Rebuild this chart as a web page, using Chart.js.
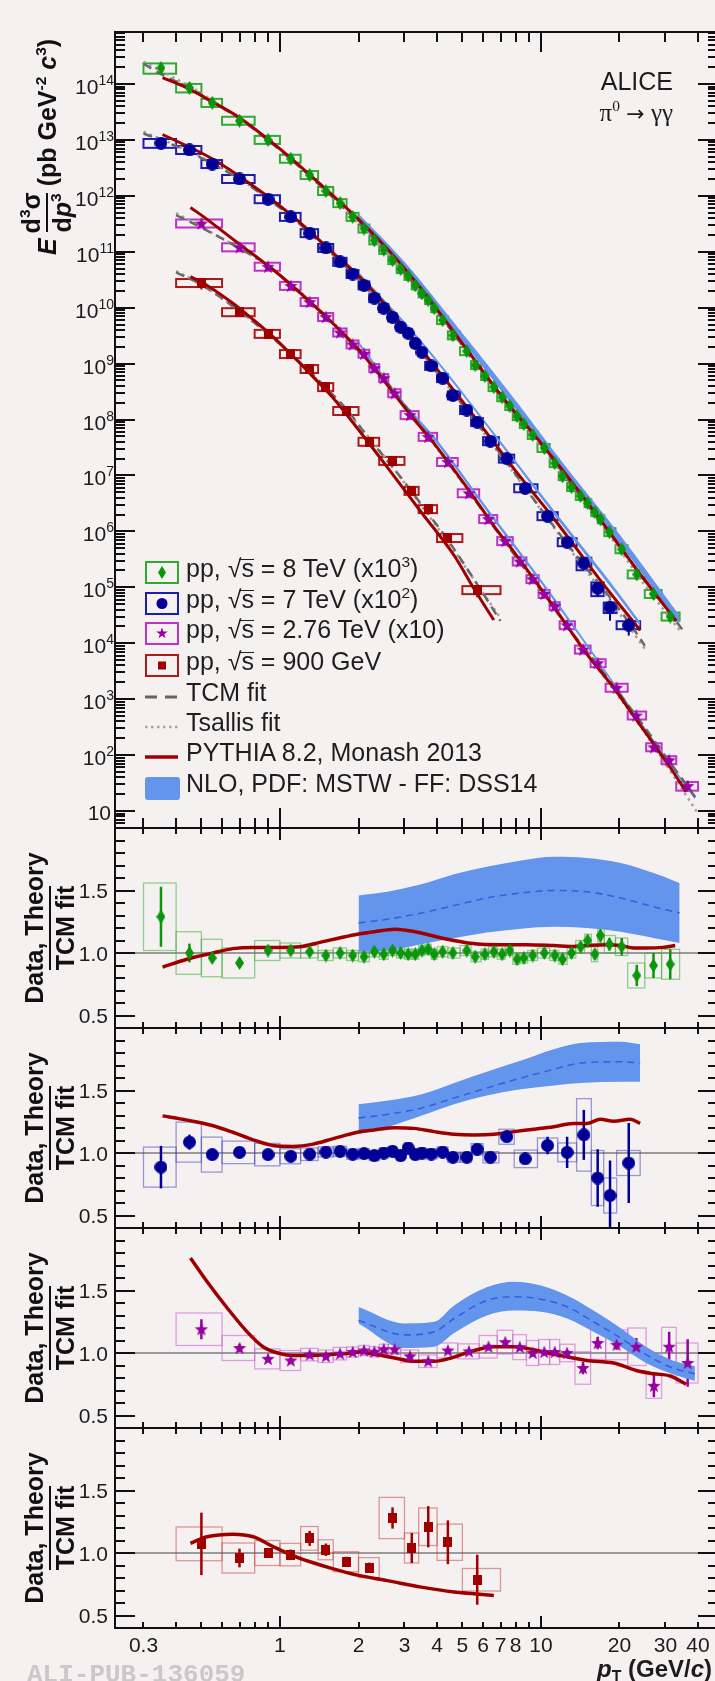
<!DOCTYPE html>
<html><head><meta charset="utf-8">
<script src="https://cdn.jsdelivr.net/npm/chart.js@4.4.1/dist/chart.umd.min.js"></script>
<style>
html,body{margin:0;padding:0;background:#f6f1f1;}
#wrap{position:relative;width:715px;height:1681px;overflow:hidden;background:#f6f1f1;}
#wrap canvas{position:absolute;left:0;top:0;}
.lab{position:absolute;font-family:"Liberation Sans",Arial,Helvetica,sans-serif;color:#1c1c1c;white-space:nowrap;line-height:1;}
.sp{font-size:0.62em;position:relative;top:-0.62em;}
.sb{font-size:0.66em;position:relative;top:0.3em;}
.ov{position:relative;display:inline-block;}
.ov::before{content:'';position:absolute;left:-2px;right:0;top:3px;border-top:1.8px solid #1e1e1e;}
.leg{position:absolute;left:186px;font-family:"Liberation Sans",Arial,sans-serif;font-size:25px;color:#1e1e1e;line-height:1;white-space:nowrap;}
.sym{position:absolute;left:145px;}
.rot{position:absolute;display:flex;align-items:center;justify-content:center;transform:rotate(-90deg);font-family:"Liberation Sans",Arial,sans-serif;font-weight:bold;font-size:25px;line-height:1;color:#111;white-space:nowrap;}
.frac{display:inline-flex;flex-direction:column;align-items:center;}
.frac .den{border-top:2.5px solid #111;padding-top:2px;}
.frac .num{padding-bottom:2px;}
</style></head>
<body><div id="wrap">
<canvas id="c0" width="740" height="1681"></canvas>
<canvas id="c1" width="740" height="1681"></canvas>
<canvas id="c2" width="740" height="1681"></canvas>
<canvas id="c3" width="740" height="1681"></canvas>
<canvas id="c4" width="740" height="1681"></canvas>

<div class="rot" style="left:-73px;top:117px;width:240px;height:60px;">
  <i style="margin-right:5px">E</i>
  <span class="frac" style="margin-right:6px"><span class="num">d<span class="sp">3</span>σ</span><span class="den">d<i>p</i><span class="sp">3</span></span></span>
  <span>(pb GeV<span class="sp">-2</span> <i>c</i><span class="sp">3</span>)</span>
</div>
<div class="rot" style="left:-50px;top:898px;width:200px;height:60px;"><span class="frac"><span class="num">Data, Theory</span><span class="den">TCM fit</span></span></div>
<div class="rot" style="left:-50px;top:1098px;width:200px;height:60px;"><span class="frac"><span class="num">Data, Theory</span><span class="den">TCM fit</span></span></div>
<div class="rot" style="left:-50px;top:1298px;width:200px;height:60px;"><span class="frac"><span class="num">Data, Theory</span><span class="den">TCM fit</span></span></div>
<div class="rot" style="left:-50px;top:1498px;width:200px;height:60px;"><span class="frac"><span class="num">Data, Theory</span><span class="den">TCM fit</span></span></div>

<div class="lab" style="right:42px;top:69px;font-size:25px;">ALICE</div>
<div class="lab" style="right:42px;top:100px;font-size:25px;font-family:'Liberation Serif','DejaVu Serif',serif;">π<span class="sp">0</span> <span style="font-family:'DejaVu Sans',sans-serif;font-size:22px">→</span> γγ</div>

<svg class="sym" style="top:561px" width="36" height="24"><rect x="1" y="1" width="32" height="21" fill="none" stroke="rgb(50,170,50)" stroke-width="2"/><polygon points="17,5 21,11.5 17,18 13,11.5" fill="rgb(10,150,10)"/></svg>
<svg class="sym" style="top:592px" width="36" height="24"><rect x="1" y="1" width="32" height="21" fill="none" stroke="rgb(30,30,170)" stroke-width="2"/><circle cx="17" cy="11.5" r="5.5" fill="rgb(0,0,150)"/></svg>
<svg class="sym" style="top:622px" width="36" height="24"><rect x="1" y="1" width="32" height="21" fill="none" stroke="rgb(190,50,200)" stroke-width="2"/><polygon points="17,5.5 18.4,9.6 22.7,9.6 19.2,12.2 20.5,16.3 17,13.8 13.5,16.3 14.8,12.2 11.3,9.6 15.6,9.6" fill="rgb(150,0,160)"/></svg>
<svg class="sym" style="top:654px" width="36" height="24"><rect x="1" y="1" width="32" height="21" fill="none" stroke="rgb(175,25,25)" stroke-width="2"/><rect x="13" y="7.5" width="8" height="8" fill="rgb(160,0,0)"/></svg>
<svg class="sym" style="top:685px" width="36" height="24"><line x1="0" y1="12" x2="33" y2="12" stroke="rgb(100,100,100)" stroke-width="3" stroke-dasharray="12,8"/></svg>
<svg class="sym" style="top:715px" width="36" height="24"><line x1="0" y1="12" x2="33" y2="12" stroke="rgb(165,165,165)" stroke-width="2.5" stroke-dasharray="2.5,3.5"/></svg>
<svg class="sym" style="top:745px" width="36" height="24"><line x1="0" y1="12" x2="33" y2="12" stroke="rgb(160,0,0)" stroke-width="3.5"/></svg>
<svg class="sym" style="top:776px" width="36" height="26"><rect x="0" y="1" width="35" height="23" rx="3" fill="rgb(100,149,237)"/></svg>

<div class="leg" style="top:556px">pp, √<span class="ov">s</span> = 8 TeV (x10<span class="sp">3</span>)</div>
<div class="leg" style="top:587px">pp, √<span class="ov">s</span> = 7 TeV (x10<span class="sp">2</span>)</div>
<div class="leg" style="top:617px">pp, √<span class="ov">s</span> = 2.76 TeV (x10)</div>
<div class="leg" style="top:649px">pp, √<span class="ov">s</span> = 900 GeV</div>
<div class="leg" style="top:680px">TCM fit</div>
<div class="leg" style="top:710px">Tsallis fit</div>
<div class="leg" style="top:740px">PYTHIA 8.2, Monash 2013</div>
<div class="leg" style="top:771px">NLO, PDF: MSTW - FF: DSS14</div>

<div class="lab" style="left:597px;top:1657px;font-size:24px;font-weight:bold;"><i>p</i><span class="sb">T</span> (GeV/<i>c</i>)</div>
<div class="lab" style="left:27px;top:1662px;font-size:26px;font-weight:bold;font-family:'Liberation Mono','DejaVu Sans Mono',monospace;color:#c9c9c9;">ALI-PUB-136059</div>
</div>

<script>
// ================= DATA =================
// shared x axis (pT, GeV/c)
const xTickValues = [0.3, 1, 2, 3, 4, 5, 6, 7, 8, 10, 20, 30, 40];
const xTickLabels = ['0.3', '1', '2', '3', '4', '5', '6', '7', '8', '10', '20', '30', '40'];
const ratioTickValues = [0.5, 1.0, 1.5];
const ratioTickLabels = ['0.5', '1.0', '1.5'];

// ---- pp 8 TeV (x10^3) ----
const pt8 = [0.35,0.45,0.55,0.7,0.9,1.1,1.3,1.5,1.7,1.9,2.1,2.3,2.5,2.7,2.9,3.1,3.3,3.5,3.7,3.9,4.2,4.6,5.2,5.6,6.1,6.6,7.1,7.6,8.1,8.6,9.3,10.3,11.3,12.1,13.1,14.2,15.1,16.1,16.9,18.3,20.4,23.3,27.0,31.3];
const edges8 = [0.3,0.4,0.5,0.6,0.8,1.0,1.2,1.4,1.6,1.8,2.0,2.2,2.4,2.6,2.8,3.0,3.2,3.4,3.6,3.8,4.0,4.4,4.9,5.4,5.9,6.3,6.8,7.3,7.8,8.3,8.9,9.7,10.8,11.7,12.6,13.6,14.7,15.6,16.5,17.5,19.3,21.5,25,29,34];
const xsec8 = [1.93e14,8.5e13,4.6e13,2.2e13,1.0e13,4.6e12,2.35e12,1.22e12,7.4e11,4.2e11,2.6e11,1.6e11,1.08e11,7.1e10,4.9e10,3.7e10,2.5e10,1.8e10,1.37e10,9.8e9,6.0e9,3.2e9,1.67e9,9.4e8,6.0e8,3.8e8,2.5e8,1.74e8,1.15e8,8.3e7,5.3e7,3.1e7,1.66e7,9.7e6,6.2e6,4.3e6,3.2e6,2.2e6,1.65e6,9.7e5,4.8e5,1.7e5,7.6e4,3.0e4];
const ratio8 = [1.29,1.00,0.96,0.92,1.02,1.02,1.01,0.98,1.00,0.98,0.97,1.01,0.99,1.02,1.00,0.99,0.99,1.02,1.03,0.99,1.01,1.00,1.02,0.97,0.99,1.01,0.99,1.02,0.95,0.96,0.98,1.00,0.98,0.95,1.00,1.05,1.10,0.99,1.14,1.07,1.05,0.82,0.90,0.91];
const stat8 = [0.24,0.075,0.03,0.025,0.02,0.02,0.02,0.02,0.02,0.02,0.02,0.02,0.02,0.02,0.02,0.02,0.02,0.02,0.02,0.02,0.02,0.02,0.02,0.02,0.02,0.02,0.02,0.025,0.025,0.025,0.025,0.025,0.025,0.025,0.03,0.035,0.04,0.04,0.05,0.05,0.07,0.085,0.1,0.12];
const sys8 = [0.27,0.17,0.15,0.12,0.08,0.06,0.05,0.04,0.04,0.04,0.04,0.04,0.04,0.04,0.04,0.04,0.04,0.04,0.04,0.04,0.04,0.04,0.04,0.04,0.04,0.04,0.04,0.04,0.04,0.04,0.04,0.04,0.04,0.04,0.04,0.05,0.05,0.06,0.06,0.07,0.07,0.1,0.1,0.12];

// ---- pp 7 TeV (x10^2) ----
const pt7 = [0.35,0.45,0.55,0.7,0.9,1.1,1.3,1.5,1.7,1.9,2.1,2.3,2.5,2.7,2.9,3.1,3.3,3.5,3.8,4.2,4.6,5.2,5.7,6.4,7.4,8.7,10.6,12.6,14.6,16.5,18.4,21.7];
const edges7 = [0.3,0.4,0.5,0.6,0.8,1.0,1.2,1.4,1.6,1.8,2.0,2.2,2.4,2.6,2.8,3.0,3.2,3.4,3.6,4.0,4.4,4.9,5.4,6.0,6.9,7.9,9.7,11.6,13.7,15.6,17.4,19.5,24];
const xsec7 = [8.8e12,6.6e12,3.7e12,2.0e12,8.7e11,4.2e11,2.15e11,1.17e11,6.6e10,4.0e10,2.5e10,1.48e10,9.8e9,6.7e9,4.5e9,3.5e9,2.3e9,1.6e9,9.1e8,5.5e8,2.7e8,1.48e8,9.0e7,4.1e7,2.0e7,5.9e6,1.87e6,6.4e5,2.7e5,9.6e4,4.4e4,2.1e4];
const ratio7 = [0.887,1.087,0.987,1.005,0.987,0.974,0.99,1.008,1.013,0.99,0.995,0.979,1.0,1.013,0.979,1.04,0.987,1.0,0.992,1.008,0.966,0.966,1.03,0.966,1.13,0.953,1.06,1.005,1.145,0.80,0.66,0.92];
const stat7 = [0.17,0.06,0.02,0.02,0.02,0.02,0.02,0.02,0.02,0.02,0.02,0.02,0.02,0.02,0.02,0.02,0.02,0.02,0.02,0.02,0.025,0.025,0.025,0.03,0.03,0.04,0.07,0.125,0.2,0.23,0.28,0.32];
const sys7 = [0.16,0.16,0.14,0.09,0.09,0.06,0.05,0.04,0.04,0.04,0.04,0.04,0.04,0.04,0.04,0.04,0.04,0.04,0.04,0.04,0.04,0.04,0.045,0.045,0.06,0.07,0.06,0.075,0.29,0.22,0.14,0.1];

// ---- pp 2.76 TeV (x10) ----
const pt276 = [0.5,0.7,0.9,1.1,1.3,1.5,1.7,1.9,2.1,2.3,2.5,2.75,3.15,3.7,4.4,5.3,6.3,7.3,8.3,9.3,10.3,11.3,12.6,14.5,16.5,19.5,23.2,27.1,31.0,36.5];
const edges276 = [0.4,0.6,0.8,1.0,1.2,1.4,1.6,1.8,2.0,2.2,2.4,2.6,2.9,3.4,4.0,4.8,5.8,6.8,7.8,8.8,9.8,10.8,11.8,13.5,15.5,17.7,21.5,25.3,29,33,40];
const xsec276 = [3.2e11,1.2e11,5.4e10,2.45e10,1.26e10,6.8e9,3.6e9,2.2e9,1.5e9,8.3e8,5.5e8,2.95e8,1.2e8,4.9e7,1.74e7,4.8e6,1.66e6,6.7e5,2.9e5,1.4e5,7.6e4,4.6e4,2.1e4,7.7e3,4.4e3,1.6e3,5.1e2,1.38e2,81,28];
const ratio276 = [1.19,1.04,0.953,0.94,0.987,0.974,0.995,1.008,1.02,1.01,1.03,1.03,0.974,0.934,1.02,1.013,1.05,1.087,1.047,1.0,1.008,1.008,1.0,0.88,1.08,1.066,1.05,0.737,1.05,0.92];
const stat276 = [0.08,0.03,0.02,0.02,0.02,0.02,0.02,0.02,0.02,0.02,0.02,0.02,0.02,0.02,0.02,0.02,0.02,0.02,0.02,0.02,0.02,0.025,0.025,0.05,0.05,0.04,0.07,0.09,0.12,0.19];
const sys276 = [0.13,0.1,0.08,0.08,0.05,0.05,0.05,0.04,0.04,0.04,0.04,0.04,0.05,0.05,0.06,0.06,0.09,0.095,0.1,0.1,0.1,0.1,0.07,0.13,0.13,0.12,0.15,0.1,0.155,0.16];

// ---- pp 900 GeV ----
const pt09 = [0.5,0.7,0.9,1.1,1.3,1.5,1.8,2.2,2.7,3.2,3.7,4.4,5.7];
const edges09 = [0.4,0.6,0.8,1.0,1.2,1.4,1.6,2.0,2.4,3.0,3.4,4.0,5.0,7.0];
const xsec09 = [2.76e10,8.3e9,3.4e9,1.48e9,8.0e8,3.8e8,1.42e8,4.0e7,1.82e7,5.3e6,2.5e6,7.6e5,8.9e4];
const ratio09 = [1.073,0.96,1.0,0.987,1.117,1.026,0.93,0.883,1.28,1.04,1.21,1.086,0.786];
const stat09 = [0.25,0.075,0.04,0.04,0.06,0.05,0.04,0.04,0.085,0.12,0.165,0.175,0.2];
const sys09 = [0.135,0.12,0.1,0.09,0.095,0.08,0.08,0.08,0.165,0.12,0.15,0.145,0.09];

// ---- TCM fits (spectra panel) ----
const tcm8Pt = [0.3,0.35,0.45,0.55,0.7,0.9,1.1,1.5,2.0,2.5,3.0,4.0,5.0,6.0,8.0,10,14,18,23,27,35];
const tcm8 = [2.3e14,1.5e14,8.5e13,4.8e13,2.4e13,9.8e12,4.5e12,1.22e12,3.3e11,1.08e11,4.2e10,8.5e9,2.1e9,6.5e8,1.25e8,3.6e7,4.6e6,1.05e6,2.2e5,8.4e4,1.7e4];
const tcm7Pt = [0.3,0.35,0.45,0.55,0.7,0.9,1.1,1.5,2.0,2.5,3.0,4.0,5.0,6.0,8.0,10,14,18,22,25];
const tcm7 = [1.3e13,9.9e12,6.1e12,3.75e12,2.0e12,8.8e11,4.3e11,1.16e11,3.2e10,9.8e9,3.9e9,6.9e8,1.85e8,6.3e7,1.05e7,2.5e6,3.2e5,7.5e4,2.2e4,9.0e3];
const tcm276Pt = [0.4,0.5,0.7,0.9,1.1,1.3,1.5,1.9,2.5,3.2,3.7,4.4,5.4,6.3,7.35,8.3,10.3,12.5,14.5,16.5,19.4,23.3,27,31,36,40];
const tcm276 = [4.5e11,2.7e11,1.15e11,5.7e10,2.6e10,1.28e10,7.0e9,2.2e9,5.4e8,1.23e8,5.2e7,1.7e7,4.7e6,1.6e6,6.2e5,2.8e5,7.5e4,2.1e4,8.7e3,4.1e3,1.5e3,4.9e2,1.9e2,77,30,15];
const tcm09Pt = [0.4,0.5,0.7,0.9,1.1,1.3,1.5,1.8,2.2,2.7,3.2,3.7,4.4,5.7,7.0];
const tcm09 = [4.3e10,2.57e10,8.6e9,3.4e9,1.5e9,7.2e8,3.7e8,1.53e8,4.5e7,1.42e7,5.1e6,2.07e6,7.0e5,1.13e5,2.5e4];

// ---- Tsallis fits (spectra panel) ----
const ts8Pt = [0.3,0.5,1.0,2.0,4.0,8.0,15,25,34];
const ts8 = [2.5e14,6.8e13,6.8e12,3.3e11,8.3e9,1.2e8,3.1e6,1.1e5,1.7e4];
const ts7Pt = [0.3,0.5,1.0,2.0,4.0,8.0,14,20,25];
const ts7 = [1.4e13,4.9e12,6.3e11,3.2e10,6.8e8,1.0e7,2.9e5,3.4e4,8.0e3];
const ts276Pt = [0.4,0.5,1.0,2.0,4.0,8.0,15,25,40];
const ts276 = [4.9e11,2.8e11,3.8e10,1.8e9,3.0e7,3.6e5,6.5e3,2.5e2,9];
const ts09Pt = [0.4,0.5,1.0,2.0,4.0,7.0];
const ts09 = [4.5e10,2.6e10,2.2e9,8.0e7,1.2e6,2.8e4];

// ---- PYTHIA 8.2 (spectra panel) ----
const py8Pt = [0.355,0.44,0.55,0.7,1.0,1.4,2.0,2.75,3.5,5.0,7.0,10,15,20,25,33];
const py8 = [1.3e14,8.5e13,4.8e13,2.5e13,6.9e12,1.75e12,3.8e11,8.1e10,2.1e10,2.3e9,2.8e8,3.8e7,3.4e6,5.5e5,1.35e5,2.5e4];
const py7Pt = [0.355,0.55,0.79,1.12,1.59,2.0,2.75,3.9,5.5,7.9,11.2,16.9,24];
const py7 = [1.25e13,4.6e12,1.5e12,4.3e11,9.8e10,3.7e10,7.2e9,9.2e8,1.2e8,1.3e7,1.7e6,1.33e5,1.7e4];
const py276Pt = [0.454,0.526,0.628,0.748,0.861,1.0,1.5,2.02,3.27,3.9,5.4,6.6,7.88,11.2,15,19,23.2,27,31.3,36];
const py276 = [6.2e11,3.8e11,2.0e11,1.08e11,6.6e10,3.8e10,6.9e9,1.7e9,1.0e8,3.7e7,4.8e6,1.26e6,4.3e5,4.5e4,6.4e3,1.6e3,4.3e2,1.6e2,60,22];
const py09Pt = [0.454,0.526,0.66,0.79,0.94,1.12,1.34,1.59,1.98,2.58,3.48,4.65,5.54,6.6];
const py09 = [3.6e10,2.5e10,1.2e10,6.1e9,3.05e9,1.37e9,5.8e8,2.5e8,7.0e7,1.4e7,2.2e6,3.7e5,9.4e4,2.6e4];

// ---- NLO bands (spectra panel) ----
const nlo8Pt = [2,3,5,8,12,20,34];
const nlo8Lo = [3.3e11,4.6e10,2.5e9,1.5e8,1.2e7,6.1e5,2.2e4];
const nlo8Hi = [4.8e11,6.6e10,3.5e9,2.2e8,1.8e7,8.9e5,3.1e4];
const nlo7Pt = [2.0,3.5,6.2,11.2,20,24];
const nlo7Lo = [3.7e10,2.2e9,7.6e7,2.0e6,6.3e4,2.0e4];
const nlo7Hi = [4.4e10,2.5e9,8.6e7,2.4e6,7.6e4,2.4e4];
const nlo276Pt = [2.0,3.0,3.9,6.2,10,15.9,25.3,38.9];
const nlo276Lo = [2.2e9,1.7e8,4.2e7,2.3e6,1.2e5,5.9e3,2.6e2,16];
const nlo276Hi = [2.5e9,2.0e8,5.0e7,2.7e6,1.4e5,6.7e3,2.9e2,18];

// ---- ratio panels: PYTHIA / TCM ----
const rPy8Pt = [0.355,0.44,0.555,0.66,0.79,1.0,1.19,1.42,1.69,1.98,2.3,2.75,3.08,3.48,4.15,4.95,5.9,7.0,8.8,11.2,13.3,15,17.9,20.2,22.6,25.3,29.3,32.7];
const rPy8 = [0.887,0.95,1.0,1.035,1.045,1.045,1.05,1.085,1.12,1.15,1.17,1.19,1.18,1.16,1.12,1.09,1.07,1.067,1.067,1.06,1.053,1.06,1.067,1.06,1.04,1.04,1.045,1.06];
const rPy7Pt = [0.355,0.44,0.555,0.66,0.79,0.94,1.12,1.34,1.59,1.98,2.3,2.75,3.27,3.9,4.65,5.54,6.6,7.88,9.4,11.2,13.3,15.0,16.9,19.0,22.0,24];
const rPy7 = [1.297,1.263,1.218,1.166,1.105,1.06,1.053,1.071,1.113,1.166,1.184,1.203,1.197,1.171,1.15,1.145,1.15,1.171,1.19,1.21,1.237,1.237,1.27,1.255,1.27,1.237];
const rPy276Pt = [0.454,0.526,0.628,0.748,0.861,1.0,1.12,1.30,1.51,1.80,2.02,2.30,2.75,3.27,3.90,4.53,5.40,6.6,7.88,9.4,11.2,13.3,15.0,19.0,23.2,27.0,31.3,36];
const rPy276 = [1.76,1.57,1.36,1.17,1.05,0.995,0.98,0.98,0.987,0.995,1.008,0.99,0.96,0.934,0.934,0.96,1.013,1.05,1.05,1.026,0.99,0.96,0.94,0.92,0.86,0.834,0.816,0.75];
const rPy09Pt = [0.454,0.526,0.66,0.79,0.94,1.12,1.34,1.59,1.98,2.58,3.48,4.65,5.54,6.6];
const rPy09 = [1.078,1.13,1.151,1.13,1.052,0.979,0.922,0.875,0.823,0.779,0.727,0.688,0.674,0.66];

// ---- ratio panels: NLO / TCM ----
const rNlo8Pt = [2.0,2.58,3.48,4.65,6.2,8.4,11.2,15.0,20.2,27.0,34];
const rNlo8Hi = [1.46,1.49,1.55,1.63,1.69,1.74,1.77,1.76,1.72,1.64,1.56];
const rNlo8Mid = [1.24,1.27,1.32,1.38,1.44,1.48,1.50,1.49,1.44,1.37,1.32];
const rNlo8Lo = [1.01,1.02,1.07,1.12,1.165,1.195,1.21,1.20,1.17,1.12,1.08];
const rNlo7Pt = [2.0,2.6,3.5,4.65,6.2,8.4,11.2,14.2,20.2,24];
const rNlo7Hi = [1.39,1.42,1.47,1.56,1.65,1.74,1.83,1.88,1.89,1.87];
const rNlo7Mid = [1.28,1.31,1.36,1.44,1.52,1.60,1.67,1.72,1.73,1.72];
const rNlo7Lo = [1.15,1.21,1.30,1.39,1.46,1.51,1.54,1.56,1.57,1.57];
const rNlo276Pt = [2.0,3.0,3.9,4.65,6.2,7.9,10,12.6,15.9,20.2,25.3,32,38.9];
const rNlo276Hi = [1.368,1.237,1.25,1.38,1.526,1.57,1.54,1.46,1.34,1.2,1.05,0.94,0.895];
const rNlo276Mid = [1.26,1.145,1.17,1.276,1.42,1.45,1.43,1.37,1.25,1.12,0.987,0.88,0.834];
const rNlo276Lo = [1.237,1.04,1.05,1.16,1.30,1.34,1.33,1.276,1.17,1.05,0.92,0.83,0.776];

// ================= LAYOUT / STYLE =================
const CW = 740, CH = 1681, LEFT = 115, RIGHT = 718;
const XMIN = 0.2333, XMAX = 47.7;
const PANELS = [{top:32,bottom:828},{top:828,bottom:1028},{top:1028,bottom:1228},{top:1228,bottom:1428},{top:1428,bottom:1628}];
const FONT = '"Liberation Sans", Arial, Helvetica, sans-serif';
const COL = {
  g:{m:'rgb(10,150,10)', box:'rgb(50,170,50)', rbox:'rgba(60,175,60,0.55)'},
  b:{m:'rgb(0,0,150)', box:'rgb(30,30,170)', rbox:'rgba(60,60,190,0.5)'},
  m:{m:'rgb(150,0,160)', box:'rgb(190,50,200)', rbox:'rgba(200,90,210,0.55)'},
  r:{m:'rgb(160,0,0)', box:'rgb(175,25,25)', rbox:'rgba(200,60,60,0.5)'}
};
const PYCOL = 'rgb(158,0,0)', NLOCOL = 'rgb(100,149,237)', NLOMID = 'rgb(55,95,225)';

function mk(shape, color, w, h){
  const c = document.createElement('canvas'); c.width = w; c.height = h;
  const g = c.getContext('2d'); g.fillStyle = color; g.beginPath();
  if (shape === 'diamond'){ g.moveTo(w/2,0); g.lineTo(w,h/2); g.lineTo(w/2,h); g.lineTo(0,h/2); g.closePath(); }
  else if (shape === 'circle'){ g.arc(w/2,h/2,w/2,0,2*Math.PI); }
  else if (shape === 'square'){ g.rect(0,0,w,h); }
  else if (shape === 'star'){ const R=w/2, r=R*0.42; for(let i=0;i<10;i++){ const a=-Math.PI/2+i*Math.PI/5, rr=i%2?r:R; g.lineTo(w/2+rr*Math.cos(a), h/2+0.5+rr*Math.sin(a)); } g.closePath(); }
  g.fill(); return c;
}
const MK = {
  g: mk('diamond', COL.g.m, 9, 14), b: mk('circle', COL.b.m, 13, 13),
  m: mk('star', COL.m.m, 14, 14), r: mk('square', COL.r.m, 9, 10)
};

const xy = (xs, ys) => xs.map((x,i)=>({x, y:ys[i]}));
function lineDS(xs, ys, color, width, dash){
  return {data:xy(xs,ys), showLine:true, borderColor:color, borderWidth:width, borderDash:dash||[],
          pointRadius:0, fill:false, cubicInterpolationMode:'monotone'};
}
function bandDS(xs, lo, hi, loIndex, color){
  return [
    {data:xy(xs,lo), showLine:true, borderWidth:0, borderColor:'rgba(0,0,0,0)', pointRadius:0, fill:false, cubicInterpolationMode:'monotone'},
    {data:xy(xs,hi), showLine:true, borderWidth:0, borderColor:'rgba(0,0,0,0)', pointRadius:0, fill:loIndex, backgroundColor:color, cubicInterpolationMode:'monotone'}
  ];
}
function specPoints(pt, val, ratio, stat, sys, edges, key){
  return {data:xy(pt,val), showLine:false, pointStyle:MK[key], pointRadius:6,
    hep:{lo:edges.slice(0,-1), hi:edges.slice(1),
         up:val.map((v,i)=>v*(1+sys[i]/ratio[i])), dn:val.map((v,i)=>v*(1-sys[i]/ratio[i])),
         eup:val.map((v,i)=>v*(1+stat[i]/ratio[i])), edn:val.map((v,i)=>v*Math.max(0.05,1-stat[i]/ratio[i])),
         box:COL[key].box, boxW:2, bar:COL[key].m, barW:2, log:true}};
}
function ratioPoints(pt, ratio, stat, sys, edges, key){
  return {data:xy(pt,ratio), showLine:false, pointStyle:MK[key], pointRadius:6,
    hep:{lo:edges.slice(0,-1), hi:edges.slice(1),
         up:ratio.map((v,i)=>v+sys[i]), dn:ratio.map((v,i)=>v-sys[i]),
         eup:ratio.map((v,i)=>v+stat[i]), edn:ratio.map((v,i)=>v-stat[i]),
         box:COL[key].rbox, boxW:1.3, bar:COL[key].m, barW:2.5, log:false}};
}

// ================= PLUGIN: boxes, error bars, frame, ticks =================
const hepPlugin = {
  id:'hep',
  beforeDatasetsDraw(chart, args, o){
    const {ctx, chartArea:a, scales:{x, y}} = chart;
    ctx.save();
    ctx.beginPath(); ctx.rect(a.left, a.top, a.right-a.left, a.bottom-a.top); ctx.clip();
    if (o.unity){
      const py = y.getPixelForValue(1.0);
      ctx.strokeStyle = 'rgb(125,125,125)'; ctx.lineWidth = 1.6;
      ctx.beginPath(); ctx.moveTo(a.left, py); ctx.lineTo(a.right, py); ctx.stroke();
    }
    chart.data.datasets.forEach(ds => {
      const h = ds.hep; if (!h) return;
      ds.data.forEach((p, i) => {
        const x0 = x.getPixelForValue(h.lo[i]), x1 = x.getPixelForValue(h.hi[i]);
        const yc = y.getPixelForValue(p.y);
        let yt = y.getPixelForValue(h.up[i]), yb = y.getPixelForValue(h.dn[i]);
        if (h.log){ yt = Math.min(yt, yc-4); yb = Math.max(yb, yc+4); }
        ctx.strokeStyle = h.box; ctx.lineWidth = h.boxW;
        ctx.strokeRect(x0, yt, x1-x0, yb-yt);
      });
      ds.data.forEach((p, i) => {
        const px = x.getPixelForValue(p.x);
        const et = y.getPixelForValue(h.eup[i]), eb = y.getPixelForValue(h.edn[i]);
        ctx.strokeStyle = h.bar; ctx.lineWidth = h.barW;
        ctx.beginPath(); ctx.moveTo(px, et); ctx.lineTo(px, eb); ctx.stroke();
      });
    });
    ctx.restore();
  },
  afterDraw(chart, args, o){
    const {ctx, chartArea:a, scales:{x, y}} = chart;
    ctx.save();
    ctx.strokeStyle = '#111'; ctx.lineWidth = 2;
    ctx.strokeRect(a.left, a.top, a.right-a.left, a.bottom-a.top);
    ctx.beginPath();
    for (let e=-1; e<=1; e++) for (let k=1; k<=9; k++){
      const v = k*Math.pow(10,e); if (v <= XMIN || v >= XMAX) continue;
      const px = Math.round(x.getPixelForValue(v));
      const L = k===1 ? o.xMaj : o.xMin;
      ctx.moveTo(px, a.bottom); ctx.lineTo(px, a.bottom-L);
      ctx.moveTo(px, a.top); ctx.lineTo(px, a.top+L);
    }
    const yt = [];
    if (o.log){
      for (let e=0; e<=15; e++) for (let k=1; k<=9; k++){
        const v = k*Math.pow(10,e); if (v < y.min || v > y.max) continue;
        yt.push({p:Math.round(y.getPixelForValue(v)), major:k===1});
      }
    } else {
      for (let i=4; i<=20; i++) yt.push({p:Math.round(y.getPixelForValue(i/10)), major:i%5===0});
    }
    yt.forEach(t => {
      const L = t.major ? 20 : 10;
      ctx.moveTo(a.left, t.p); ctx.lineTo(a.left+L, t.p);
      ctx.moveTo(a.right, t.p); ctx.lineTo(a.right-L, t.p);
    });
    ctx.stroke();
    ctx.fillStyle = '#1c1c1c';
    if (o.log){
      for (let e=1; e<=14; e++){
        const p = y.getPixelForValue(Math.pow(10,e));
        ctx.textAlign = 'right'; ctx.textBaseline = 'alphabetic';
        if (e === 1){ ctx.font = '21px '+FONT; ctx.fillText('10', 111, p+9); continue; }
        ctx.font = '14px '+FONT; const s = String(e); const w = ctx.measureText(s).width;
        ctx.fillText(s, 114, p+1);
        ctx.font = '21px '+FONT; ctx.fillText('10', 114-w, p+10);
      }
    } else {
      ctx.font = '21px '+FONT; ctx.textAlign = 'right'; ctx.textBaseline = 'alphabetic';
      ratioTickValues.forEach((v,i) => ctx.fillText(ratioTickLabels[i], 108, y.getPixelForValue(v)+7.5));
    }
    if (o.xLabels){
      ctx.font = '21px '+FONT; ctx.textAlign = 'center'; ctx.textBaseline = 'alphabetic';
      xTickValues.forEach((v,i) => ctx.fillText(xTickLabels[i], x.getPixelForValue(v), a.bottom+24));
    }
    ctx.restore();
  }
};

function makeChart(id, idx, datasets, ytype, ymin, ymax, ax){
  const p = PANELS[idx];
  return new Chart(document.getElementById(id), {
    type:'scatter',
    data:{datasets},
    options:{
      responsive:false, animation:false, devicePixelRatio:1, events:[],
      layout:{padding:{left:LEFT, right:CW-RIGHT, top:p.top, bottom:CH-p.bottom}},
      plugins:{legend:{display:false}, tooltip:{enabled:false}, hep:ax},
      scales:{
        x:{type:'logarithmic', min:XMIN, max:XMAX, display:false},
        y:{type:ytype, min:ymin, max:ymax, display:false}
      }
    },
    plugins:[hepPlugin]
  });
}

// ================= SPECTRA PANEL =================
const mainDS = [
  specPoints(pt8, xsec8, ratio8, stat8, sys8, edges8, 'g'),
  specPoints(pt7, xsec7, ratio7, stat7, sys7, edges7, 'b'),
  specPoints(pt276, xsec276, ratio276, stat276, sys276, edges276, 'm'),
  specPoints(pt09, xsec09, ratio09, stat09, sys09, edges09, 'r'),
  lineDS(py8Pt, py8, PYCOL, 3),
  lineDS(py7Pt, py7, PYCOL, 3),
  lineDS(py276Pt, py276, PYCOL, 3),
  lineDS(py09Pt, py09, PYCOL, 3),
  lineDS(tcm8Pt, tcm8, 'rgb(105,105,105)', 2.5, [9,6]),
  lineDS(tcm7Pt, tcm7, 'rgb(105,105,105)', 2.5, [9,6]),
  lineDS(tcm276Pt, tcm276, 'rgb(105,105,105)', 2.5, [9,6]),
  lineDS(tcm09Pt, tcm09, 'rgb(105,105,105)', 2.5, [9,6]),
  lineDS(ts8Pt, ts8, 'rgb(160,160,160)', 2.5, [2.5,4]),
  lineDS(ts7Pt, ts7, 'rgb(160,160,160)', 2.5, [2.5,4]),
  lineDS(ts276Pt, ts276, 'rgb(160,160,160)', 2.5, [2.5,4]),
  lineDS(ts09Pt, ts09, 'rgb(160,160,160)', 2.5, [2.5,4])
];
mainDS.push(...bandDS(nlo8Pt, nlo8Lo, nlo8Hi, mainDS.length, NLOCOL));
mainDS.push(...bandDS(nlo7Pt, nlo7Lo, nlo7Hi, mainDS.length, NLOCOL));
mainDS.push(...bandDS(nlo276Pt, nlo276Lo, nlo276Hi, mainDS.length, NLOCOL));
makeChart('c0', 0, mainDS, 'logarithmic', 4.97, 8.5e14, {log:true, xMaj:20, xMin:10});

// ================= RATIO PANELS =================
function ratioDS(points, pyPt, py, nPt, nLo, nMid, nHi){
  const ds = [points, lineDS(pyPt, py, PYCOL, 3.5)];
  if (nPt){
    ds.push(lineDS(nPt, nMid, NLOMID, 1.6, [7,5]));
    ds.push(...bandDS(nPt, nLo, nHi, ds.length, NLOCOL));
  }
  return ds;
}
const rAx = {log:false, unity:true, xMaj:12, xMin:6};
makeChart('c1', 1, ratioDS(ratioPoints(pt8, ratio8, stat8, sys8, edges8, 'g'), rPy8Pt, rPy8, rNlo8Pt, rNlo8Lo, rNlo8Mid, rNlo8Hi), 'linear', 0.4, 2.0, rAx);
makeChart('c2', 2, ratioDS(ratioPoints(pt7, ratio7, stat7, sys7, edges7, 'b'), rPy7Pt, rPy7, rNlo7Pt, rNlo7Lo, rNlo7Mid, rNlo7Hi), 'linear', 0.4, 2.0, rAx);
makeChart('c3', 3, ratioDS(ratioPoints(pt276, ratio276, stat276, sys276, edges276, 'm'), rPy276Pt, rPy276, rNlo276Pt, rNlo276Lo, rNlo276Mid, rNlo276Hi), 'linear', 0.4, 2.0, rAx);
makeChart('c4', 4, ratioDS(ratioPoints(pt09, ratio09, stat09, sys09, edges09, 'r'), rPy09Pt, rPy09), 'linear', 0.4, 2.0, Object.assign({}, rAx, {xLabels:true}));
</script>
</body></html>
